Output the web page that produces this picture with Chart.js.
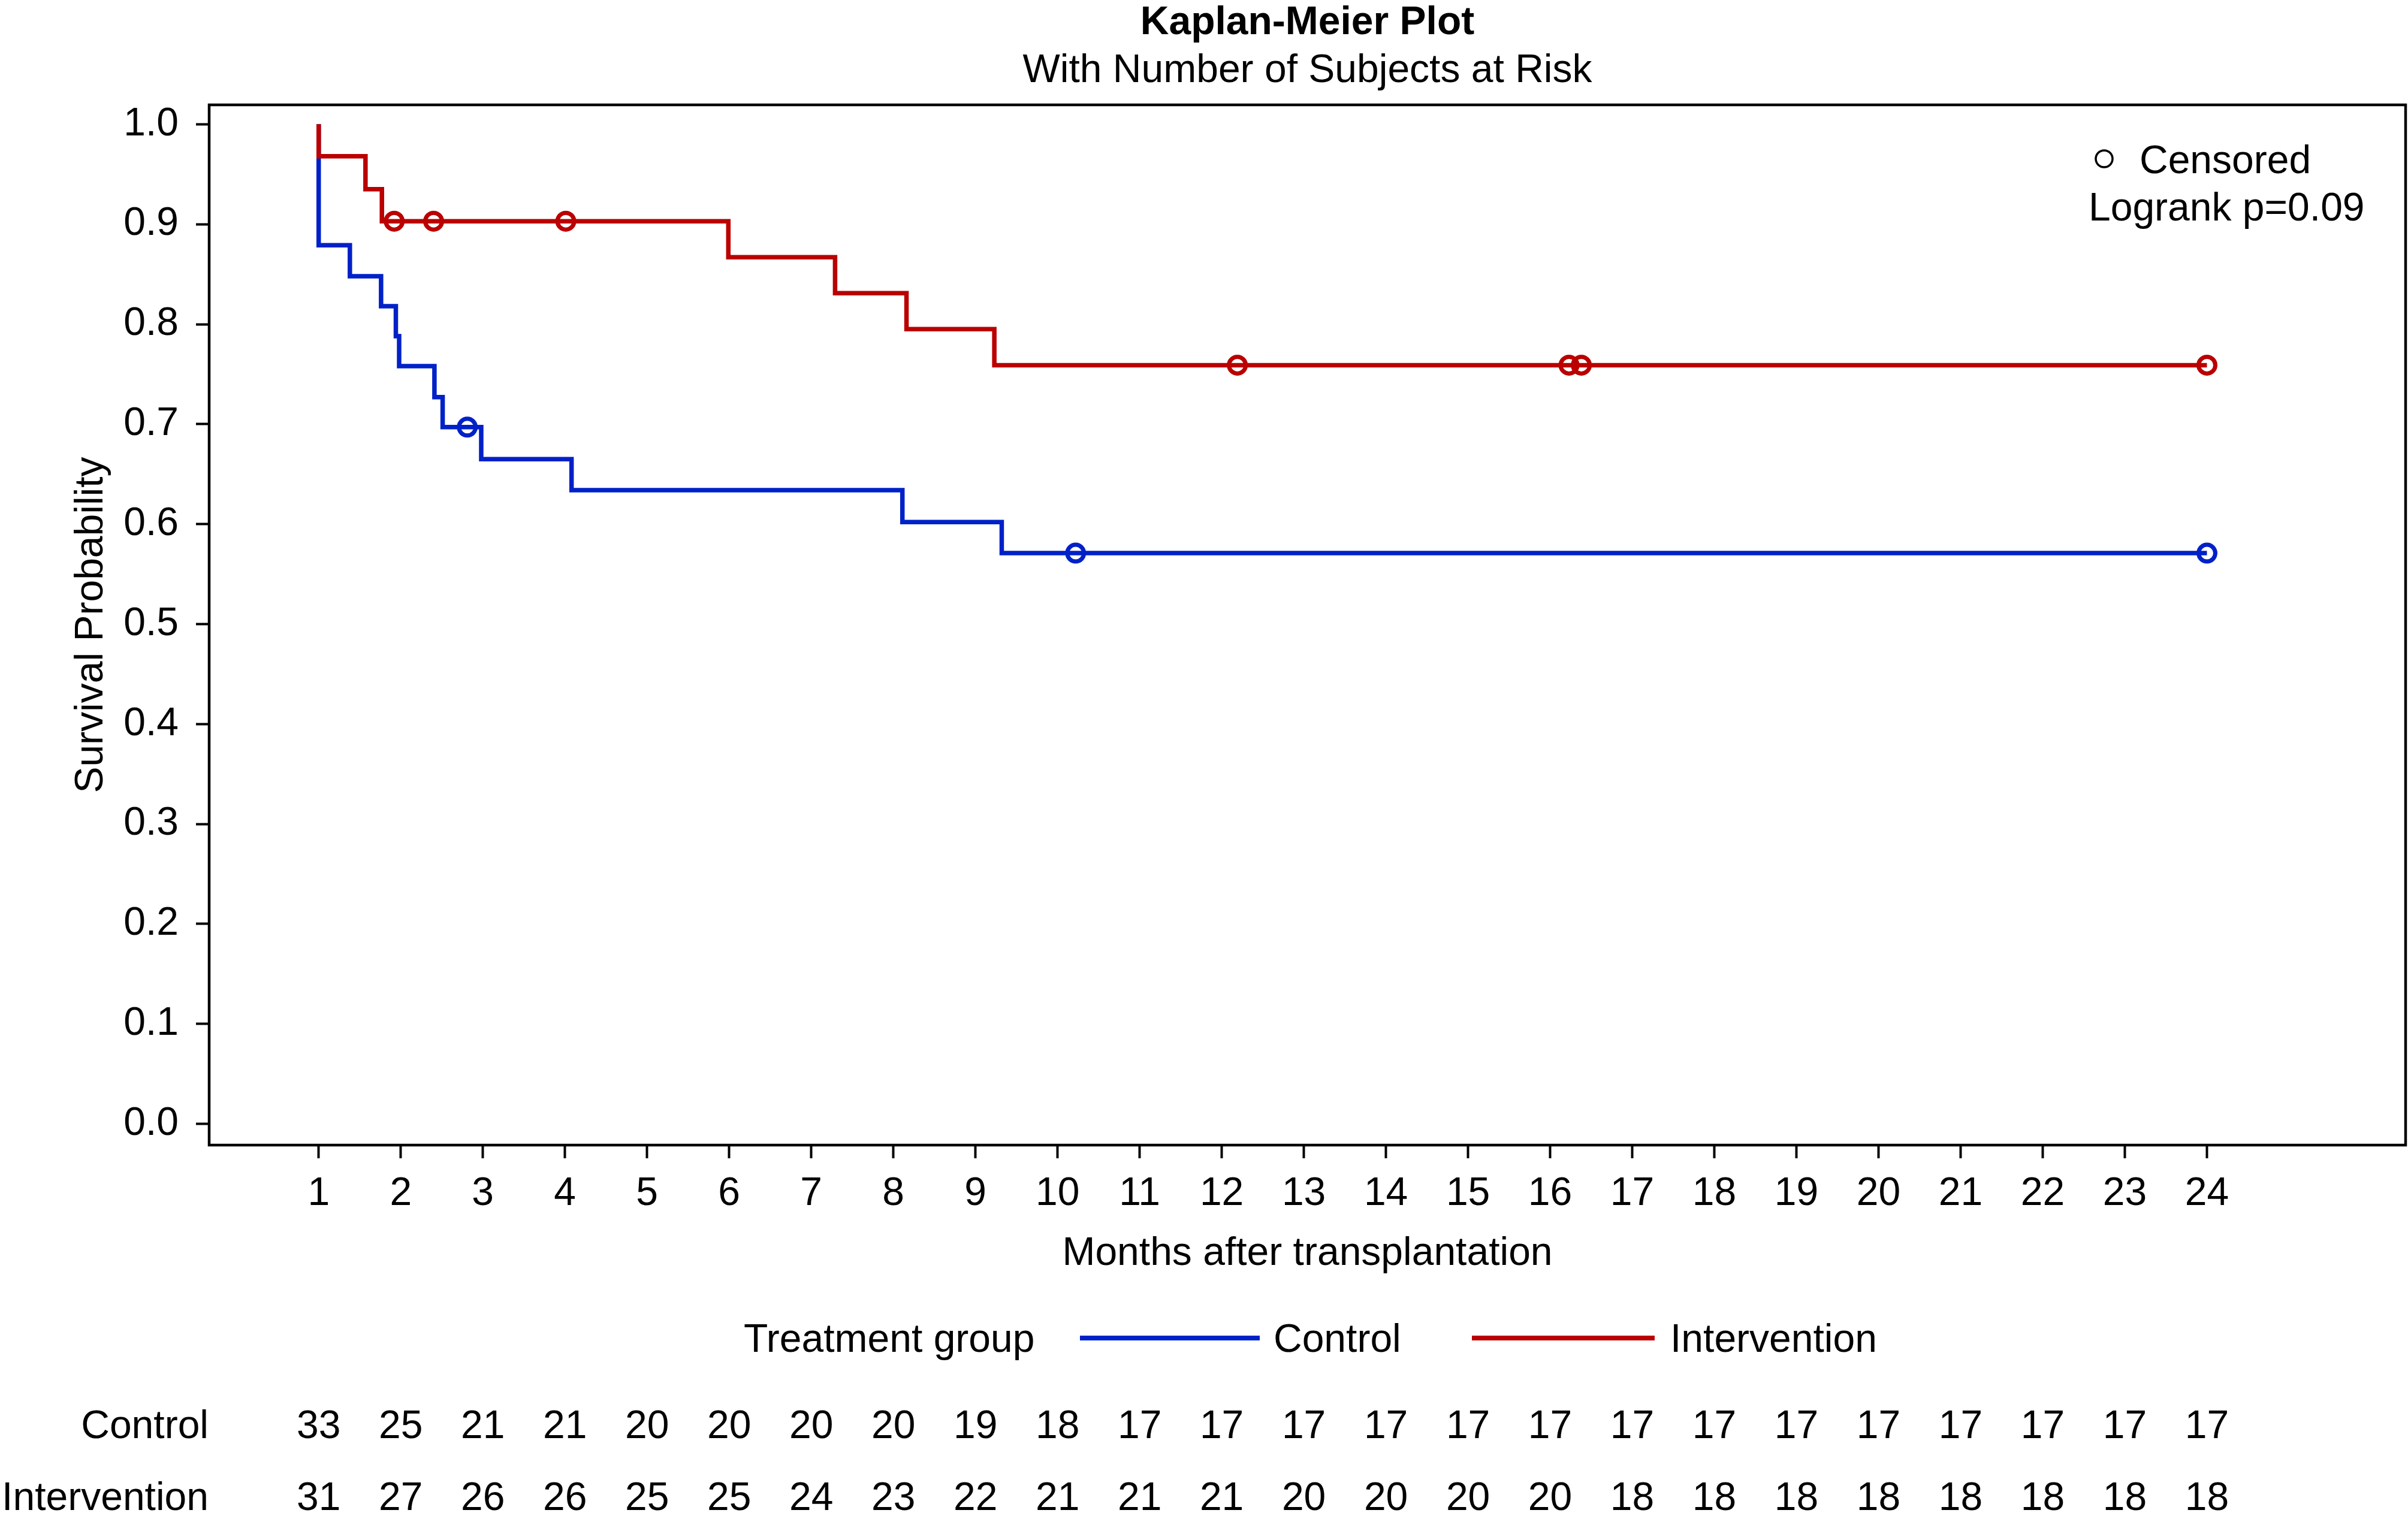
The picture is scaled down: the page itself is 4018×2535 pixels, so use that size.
<!DOCTYPE html>
<html>
<head>
<meta charset="utf-8">
<script src="https://cdn.jsdelivr.net/npm/chart.js@4.4.1/dist/chart.umd.min.js"></script>
<style>
  html, body { margin: 0; padding: 0; background: #fff; }
  canvas { display: block; }
</style>
</head>
<body>
<canvas id="kmChart" width="4018" height="2535"></canvas>
<script>
// tick labels
const monthTicks = [1,2,3,4,5,6,7,8,9,10,11,12,13,14,15,16,17,18,19,20,21,22,23,24];
const probTicks = [0, 0.1, 0.2, 0.3, 0.4, 0.5, 0.6, 0.7, 0.8, 0.9, 1.0];

// Kaplan-Meier steps (time in months, survival after the step)
const controlTimes = [1, 1, 1.38, 1.76, 1.94, 1.98, 2.41, 2.51, 2.98, 4.08, 8.11, 9.32, 24];
const controlSurv  = [1.0, 0.879, 0.848, 0.818, 0.788, 0.758, 0.727, 0.697, 0.665, 0.634, 0.602, 0.571, 0.571];
const interTimes   = [1, 1, 1.57, 1.77, 5.99, 7.29, 8.16, 9.23, 24];
const interSurv    = [1.0, 0.968, 0.935, 0.903, 0.867, 0.831, 0.795, 0.759, 0.759];

// censored observations
const controlCensored = [2.81, 10.22, 24];
const interCensored   = [1.92, 2.40, 4.01, 12.19, 16.23, 16.38, 24];

// number at risk at each month tick
const controlAtRisk = [33,25,21,21,20,20,20,20,19,18,17,17,17,17,17,17,17,17,17,17,17,17,17,17];
const interAtRisk   = [31,27,26,26,25,25,24,23,22,21,21,21,20,20,20,20,18,18,18,18,18,18,18,18];

const BLUE = '#0021C8';
const RED = '#BA0000';
const FONT = '"Liberation Sans", Arial, Helvetica, sans-serif';

function stepPoints(times, surv) {
  return times.map((t, i) => ({x: t, y: surv[i]}));
}
function survAt(times, surv, t) {
  let s = surv[0];
  for (let i = 0; i < times.length; i++) {
    if (times[i] <= t) s = surv[i];
  }
  return s;
}
function censorPoints(cens, times, surv) {
  return cens.map(t => ({x: t, y: survAt(times, surv, t)}));
}

const extras = {
  id: 'kmExtras',
  afterDraw(chart) {
    const ctx = chart.ctx;
    const area = chart.chartArea;
    const xs = chart.scales.x;
    ctx.save();

    // frame
    ctx.strokeStyle = '#000';
    ctx.lineWidth = 4.5;
    ctx.strokeRect(area.left, area.top, area.right - area.left, area.bottom - area.top);

    ctx.fillStyle = '#000';
    ctx.textBaseline = 'alphabetic';

    // titles
    const cx = (area.left + area.right) / 2;
    ctx.textAlign = 'center';
    ctx.font = 'bold 66px ' + FONT;
    ctx.fillText('Kaplan-Meier Plot', cx, 57);
    ctx.font = '66px ' + FONT;
    ctx.fillText('With Number of Subjects at Risk', cx, 137);

    // axis titles
    ctx.fillText('Months after transplantation', cx, 2111);
    ctx.save();
    ctx.translate(171, (area.top + area.bottom) / 2);
    ctx.rotate(-Math.PI / 2);
    ctx.fillText('Survival Probability', 0, 0);
    ctx.restore();

    // censored key + logrank
    ctx.textAlign = 'left';
    ctx.beginPath();
    ctx.lineWidth = 3.5;
    ctx.strokeStyle = '#000';
    ctx.arc(3511, 265, 14, 0, Math.PI * 2);
    ctx.stroke();
    ctx.fillText('Censored', 3570, 289);
    ctx.fillText('Logrank p=0.09', 3485, 368);

    // group legend
    ctx.fillText('Treatment group', 1241, 2256);
    ctx.lineWidth = 8;
    ctx.strokeStyle = BLUE;
    ctx.beginPath(); ctx.moveTo(1802, 2233); ctx.lineTo(2102, 2233); ctx.stroke();
    ctx.fillText('Control', 2125, 2256);
    ctx.strokeStyle = RED;
    ctx.beginPath(); ctx.moveTo(2456, 2233); ctx.lineTo(2761, 2233); ctx.stroke();
    ctx.fillText('Intervention', 2787, 2256);

    // number at risk
    ctx.textAlign = 'right';
    ctx.fillText('Control', 348, 2400);
    ctx.fillText('Intervention', 348, 2520);
    ctx.textAlign = 'center';
    monthTicks.forEach((m, i) => {
      const px = xs.getPixelForValue(m);
      ctx.fillText(String(controlAtRisk[i]), px, 2400);
      ctx.fillText(String(interAtRisk[i]), px, 2520);
    });
    ctx.restore();
  }
};

const config = {
  type: 'scatter',
  data: {
    datasets: [
      {
        label: 'Control censored',
        data: censorPoints(controlCensored, controlTimes, controlSurv),
        showLine: false,
        pointStyle: 'circle',
        pointRadius: 14,
        pointBorderWidth: 7,
        pointBorderColor: BLUE,
        pointBackgroundColor: 'rgba(0,0,0,0)',
        order: 0
      },
      {
        label: 'Intervention censored',
        data: censorPoints(interCensored, interTimes, interSurv),
        showLine: false,
        pointStyle: 'circle',
        pointRadius: 14,
        pointBorderWidth: 7,
        pointBorderColor: RED,
        pointBackgroundColor: 'rgba(0,0,0,0)',
        order: 0
      },
      {
        label: 'Intervention',
        data: stepPoints(interTimes, interSurv),
        showLine: true,
        stepped: 'before',
        borderColor: RED,
        borderWidth: 7.5,
        pointRadius: 0,
        fill: false,
        order: 1
      },
      {
        label: 'Control',
        data: stepPoints(controlTimes, controlSurv),
        showLine: true,
        stepped: 'before',
        borderColor: BLUE,
        borderWidth: 7.5,
        pointRadius: 0,
        fill: false,
        order: 2
      }
    ]
  },
  options: {
    responsive: false,
    devicePixelRatio: 1,
    animation: false,
    events: [],
    layout: { autoPadding: false, padding: { top: 175, right: 4, left: 0, bottom: 0 } },
    plugins: {
      legend: { display: false },
      tooltip: { enabled: false },
      title: { display: false }
    },
    scales: {
      x: {
        type: 'linear',
        min: -0.334,
        max: 26.42,
        border: { display: false },
        grid: { drawOnChartArea: false, drawTicks: true, tickLength: 22, tickWidth: 4, tickColor: '#000' },
        ticks: {
          padding: 20,
          color: '#000',
          font: { family: FONT, size: 66 },
          maxRotation: 0,
          autoSkip: false,
          callback: v => String(v)
        },
        afterBuildTicks(scale) { scale.ticks = monthTicks.map(v => ({value: v})); },
        afterFit(scale) { scale.height = 624; }
      },
      y: {
        type: 'linear',
        min: -0.0212,
        max: 1.0194,
        border: { display: false },
        grid: { drawOnChartArea: false, drawTicks: true, tickLength: 22, tickWidth: 4, tickColor: '#000' },
        ticks: {
          padding: 29,
          color: '#000',
          font: { family: FONT, size: 66 },
          autoSkip: false,
          callback: v => Number(v).toFixed(1)
        },
        afterBuildTicks(scale) { scale.ticks = probTicks.map(v => ({value: v})); },
        afterFit(scale) { scale.width = 349; }
      }
    }
  },
  plugins: [extras]
};

new Chart(document.getElementById('kmChart'), config);
</script>
</body>
</html>
